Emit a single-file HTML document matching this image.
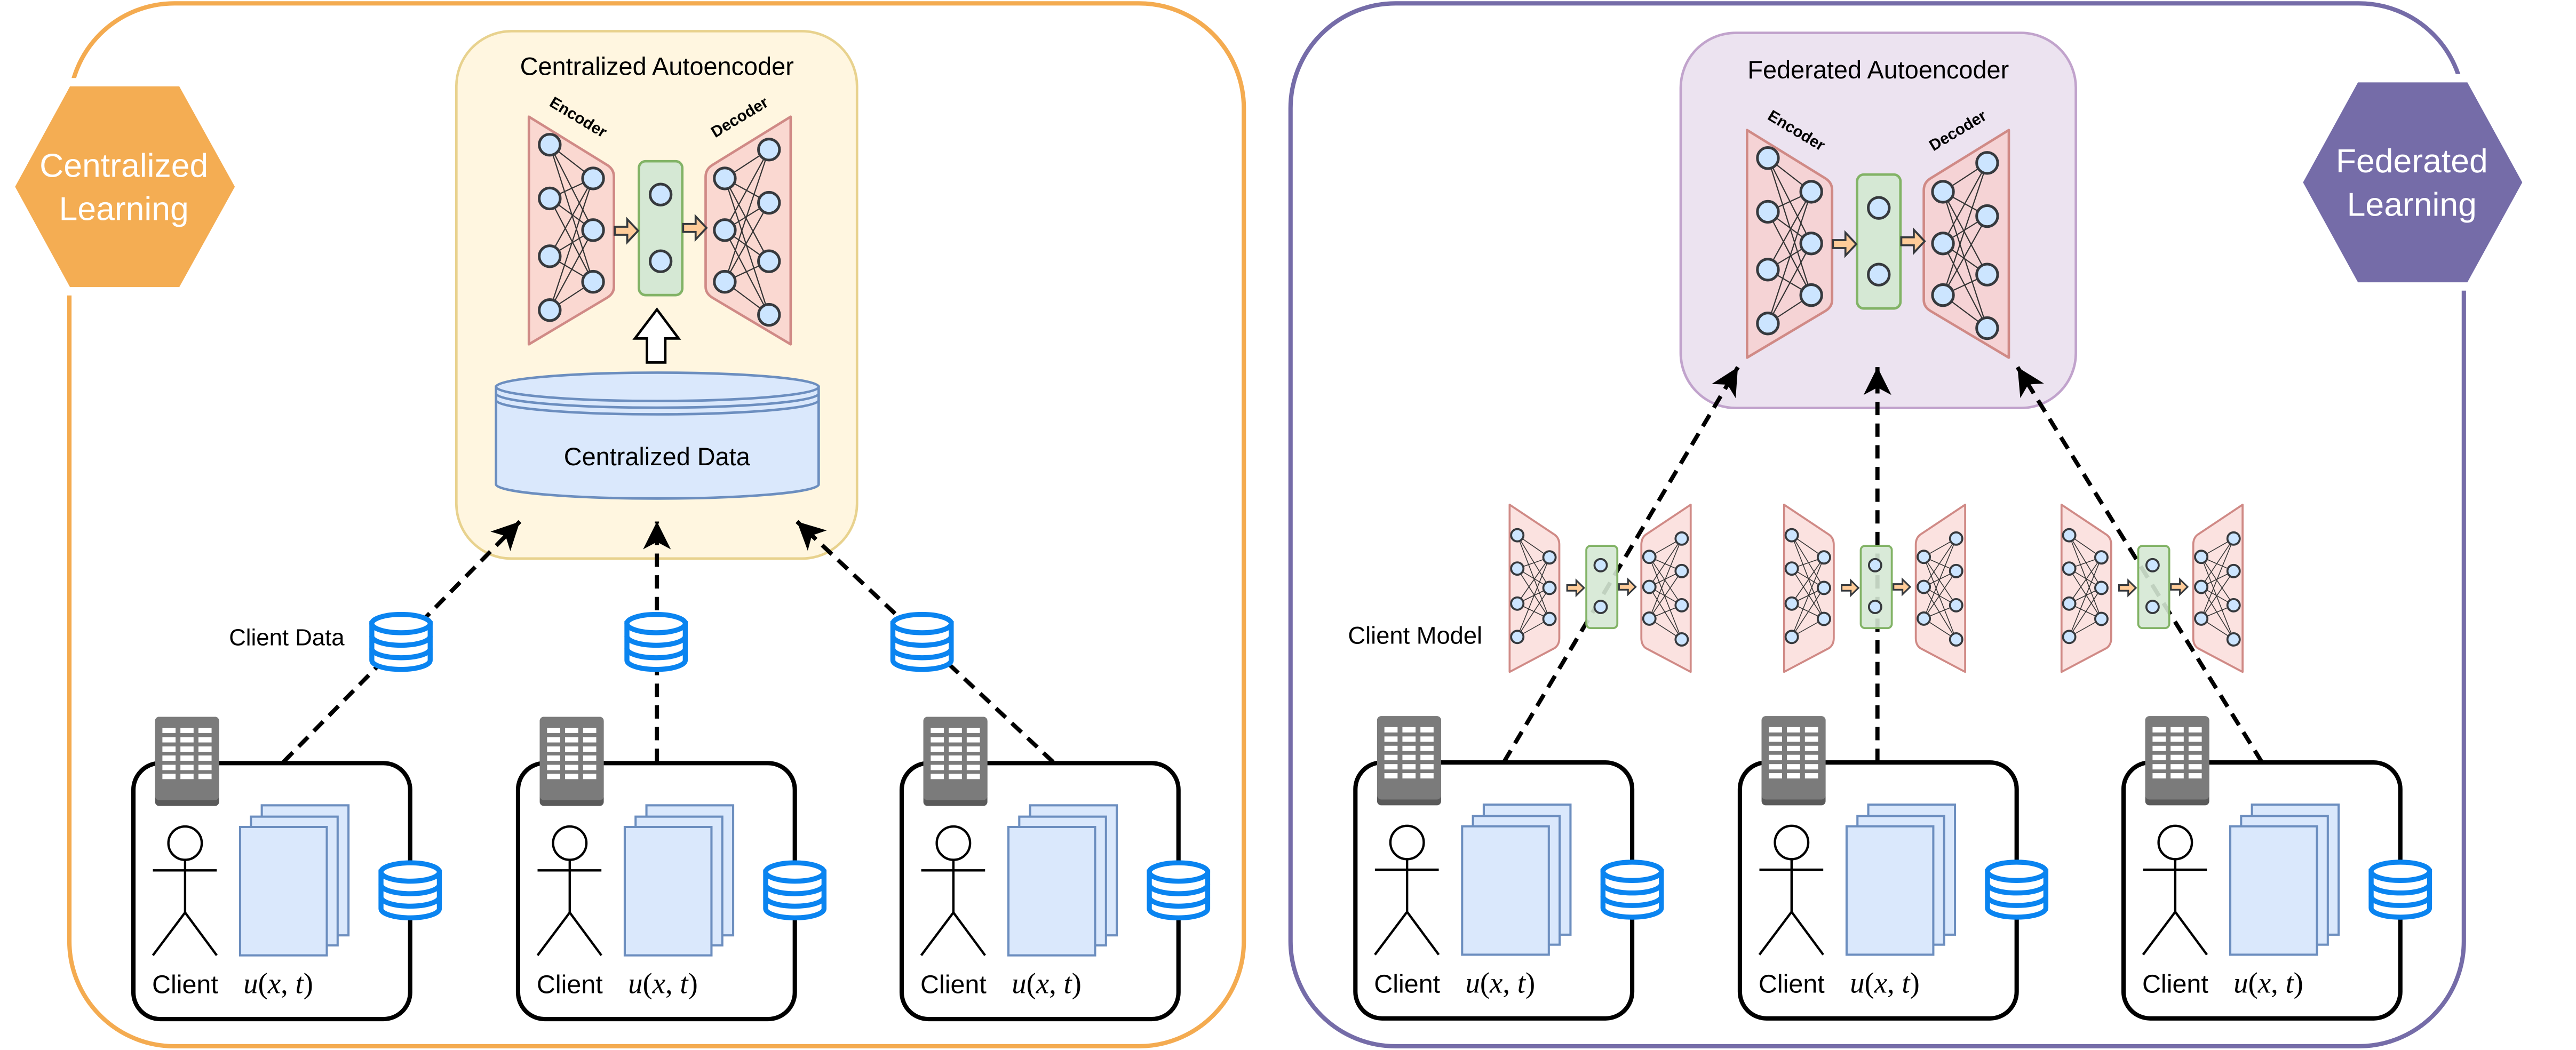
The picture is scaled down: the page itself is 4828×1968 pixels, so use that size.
<!DOCTYPE html>
<html><head><meta charset="utf-8"><style>
html,body{margin:0;padding:0;background:#fff;}
svg{display:block;}
text{font-family:"Liberation Sans",Arial,sans-serif;}
.sr{font-family:"Liberation Serif",serif;font-style:italic;}
</style></head><body>
<svg width="4828" height="1968" viewBox="0 0 1544.96 629.76" xmlns="http://www.w3.org/2000/svg">
<defs>
<marker id="ah" markerWidth="20" markerHeight="20" refX="0" refY="0" viewBox="-16 -9 18 18" markerUnits="userSpaceOnUse" orient="auto">
<path d="M0,0 L-15,-7.5 L-11,0 L-15,7.5 Z" fill="#000"/>
</marker>
<g id="db">
<path d="M1.5,7 V29 A17.5,5.5 0 0 0 36.5,29 V7 Z" fill="#fff" stroke="#0a84f0" stroke-width="3"/>
<ellipse cx="19" cy="7" rx="17.5" ry="5.5" fill="#fff" stroke="#0a84f0" stroke-width="3"/>
<path d="M1.5,14.5 A17.5,5.5 0 0 0 36.5,14.5 M1.5,22 A17.5,5.5 0 0 0 36.5,22" fill="none" stroke="#0a84f0" stroke-width="3"/>
</g>
<g id="srv">
<rect x="0" y="0" width="38.4" height="53.5" rx="2.5" fill="#5a5a5a"/>
<rect x="0" y="0" width="38.4" height="50" rx="2.5" fill="#7b7b7b"/>
<g fill="#fff">
<rect x="4.4" y="6.6" width="7.9" height="3.2"/><rect x="15.2" y="6.6" width="7.9" height="3.2"/><rect x="26" y="6.6" width="7.9" height="3.2"/>
<rect x="4.4" y="12.2" width="7.9" height="3.2"/><rect x="15.2" y="12.2" width="7.9" height="3.2"/><rect x="26" y="12.2" width="7.9" height="3.2"/>
<rect x="4.4" y="17.8" width="7.9" height="3.2"/><rect x="15.2" y="17.8" width="7.9" height="3.2"/><rect x="26" y="17.8" width="7.9" height="3.2"/>
<rect x="4.4" y="23.2" width="7.9" height="3.2"/><rect x="15.2" y="23.2" width="7.9" height="3.2"/><rect x="26" y="23.2" width="7.9" height="3.2"/>
<rect x="4.4" y="28.8" width="7.9" height="3.2"/><rect x="15.2" y="28.8" width="7.9" height="3.2"/><rect x="26" y="28.8" width="7.9" height="3.2"/>
<rect x="4.4" y="34.2" width="7.9" height="3.2"/><rect x="15.2" y="34.2" width="7.9" height="3.2"/><rect x="26" y="34.2" width="7.9" height="3.2"/>
</g>
</g>
<g id="client">
<rect x="0" y="0" width="166" height="153.5" rx="16" fill="#fff" stroke="#000" stroke-width="2.6"/>
<use href="#srv" x="13" y="-27.8"/>
<circle cx="31" cy="48" r="10" fill="#fff" stroke="#000" stroke-width="1.4"/>
<path d="M11.7,64.3 H50 M31,58 V89.6 L11.7,115.3 M31,89.6 L50,115.3" fill="none" stroke="#000" stroke-width="1.4"/>
<rect x="77" y="25.3" width="52" height="78" fill="#dae8fc" stroke="#6c8ebf" stroke-width="1.3"/>
<rect x="70.5" y="32.1" width="52" height="77.2" fill="#dae8fc" stroke="#6c8ebf" stroke-width="1.3"/>
<rect x="64" y="38.3" width="52" height="77" fill="#dae8fc" stroke="#6c8ebf" stroke-width="1.3"/>
<text x="31" y="138" font-size="15.5" text-anchor="middle">Client</text>
<text x="66" y="138" font-size="17.5" class="sr">u<tspan font-style="normal">(</tspan>x<tspan font-style="normal">, </tspan>t<tspan font-style="normal">)</tspan></text>
<use href="#db" x="147" y="58.3"/>
</g>
<g id="net">
<path d="M0,0 L47,29 Q51,31.5 51,36 L51,102 Q51,106 47,108.5 L0,136.5 Z" fill="#f8cecc" fill-opacity="0.75" stroke="#d08a86" stroke-width="1.5" stroke-linejoin="round"/>
<path d="M157,0 L110,29 Q106,31.5 106,36 L106,102 Q106,106 110,108.5 L157,136.5 Z" fill="#f8cecc" fill-opacity="0.75" stroke="#d08a86" stroke-width="1.5" stroke-linejoin="round"/>
<path d="M12.5,16.8L38.5,37M12.5,16.8L38.5,68M12.5,16.8L38.5,99M12.5,49L38.5,37M12.5,49L38.5,68M12.5,49L38.5,99M12.5,83.7L38.5,37M12.5,83.7L38.5,68M12.5,83.7L38.5,99M12.5,116L38.5,37M12.5,116L38.5,68M12.5,116L38.5,99
M117.5,37L144,19.7M117.5,37L144,51.6M117.5,37L144,86.7M117.5,37L144,118.8M117.5,68L144,19.7M117.5,68L144,51.6M117.5,68L144,86.7M117.5,68L144,118.8M117.5,99L144,19.7M117.5,99L144,51.6M117.5,99L144,86.7M117.5,99L144,118.8" stroke="#333" stroke-width="0.7" fill="none"/>
<g fill="#cce5ff" stroke="#36393d" stroke-width="1.6">
<circle cx="12.5" cy="16.8" r="6.3"/><circle cx="12.5" cy="49" r="6.3"/><circle cx="12.5" cy="83.7" r="6.3"/><circle cx="12.5" cy="116" r="6.3"/>
<circle cx="38.5" cy="37" r="6.3"/><circle cx="38.5" cy="68" r="6.3"/><circle cx="38.5" cy="99" r="6.3"/>
<circle cx="117.5" cy="37" r="6.3"/><circle cx="117.5" cy="68" r="6.3"/><circle cx="117.5" cy="99" r="6.3"/>
<circle cx="144" cy="19.7" r="6.3"/><circle cx="144" cy="51.6" r="6.3"/><circle cx="144" cy="86.7" r="6.3"/><circle cx="144" cy="118.8" r="6.3"/>
</g>
<rect x="66" y="26.7" width="26" height="80.3" rx="4" fill="#d5e8d4" stroke="#82b366" stroke-width="1.5"/>
<g fill="#cce5ff" stroke="#36393d" stroke-width="1.6"><circle cx="79" cy="46.7" r="6.3"/><circle cx="79" cy="86.7" r="6.3"/></g>
<path d="M51.5,66 H59 V61.5 L65.5,68.4 L59,75.3 V70.8 H51.5 Z" fill="#ffcc99" stroke="#36393d" stroke-width="1.2"/>
<path d="M92.5,64.3 H100 V59.8 L106.5,66.7 L100,73.6 V69.1 H92.5 Z" fill="#ffcc99" stroke="#36393d" stroke-width="1.2"/>
<text x="0" y="0" font-size="9.5" font-weight="bold" text-anchor="middle" transform="translate(28,3) rotate(31)">Encoder</text>
<text x="0" y="0" font-size="9.5" font-weight="bold" text-anchor="middle" transform="translate(128,3) rotate(-31)">Decoder</text>
</g>
<g id="mini">
<path d="M0,0 L27,18 Q29.8,20 29.8,24 L29.8,80 Q29.8,84 27,86 L0,100.3 Z" fill="#f8cecc" fill-opacity="0.6" stroke="#d08a86" stroke-width="1.2" stroke-linejoin="round"/>
<path d="M108.6,0 L81.6,18 Q79,20 79,24 L79,80 Q79,84 81.6,86 L108.6,100.3 Z" fill="#f8cecc" fill-opacity="0.6" stroke="#d08a86" stroke-width="1.2" stroke-linejoin="round"/>
<path d="M4.6,18.3L23.9,31.6M4.6,18.3L23.9,49.9M4.6,18.3L23.9,68.5M4.6,38.3L23.9,31.6M4.6,38.3L23.9,49.9M4.6,38.3L23.9,68.5M4.6,59.3L23.9,31.6M4.6,59.3L23.9,49.9M4.6,59.3L23.9,68.5M4.6,79.3L23.9,31.6M4.6,79.3L23.9,49.9M4.6,79.3L23.9,68.5
M83.8,31.3L103.2,20.3M83.8,31.3L103.2,39.8M83.8,31.3L103.2,60.3M83.8,31.3L103.2,80.8M83.8,49.3L103.2,20.3M83.8,49.3L103.2,39.8M83.8,49.3L103.2,60.3M83.8,49.3L103.2,80.8M83.8,68.3L103.2,20.3M83.8,68.3L103.2,39.8M83.8,68.3L103.2,60.3M83.8,68.3L103.2,80.8" stroke="#333" stroke-width="0.5" fill="none"/>
<g fill="#cce5ff" stroke="#36393d" stroke-width="1.2">
<circle cx="4.6" cy="18.3" r="3.7"/><circle cx="4.6" cy="38.3" r="3.7"/><circle cx="4.6" cy="59.3" r="3.7"/><circle cx="4.6" cy="79.3" r="3.7"/>
<circle cx="23.9" cy="31.6" r="3.7"/><circle cx="23.9" cy="49.9" r="3.7"/><circle cx="23.9" cy="68.5" r="3.7"/>
<circle cx="83.8" cy="31.3" r="3.7"/><circle cx="83.8" cy="49.3" r="3.7"/><circle cx="83.8" cy="68.3" r="3.7"/>
<circle cx="103.2" cy="20.3" r="3.7"/><circle cx="103.2" cy="39.8" r="3.7"/><circle cx="103.2" cy="60.3" r="3.7"/><circle cx="103.2" cy="80.8" r="3.7"/>
</g>
<rect x="46" y="24.7" width="18.6" height="49.3" rx="2.5" fill="#d5e8d4" fill-opacity="0.9" stroke="#82b366" stroke-width="1.2"/>
<g fill="#cce5ff" stroke="#36393d" stroke-width="1.2"><circle cx="54.6" cy="36.3" r="3.7"/><circle cx="54.6" cy="61.3" r="3.7"/></g>
<path d="M34.5,48.2 H40 V45.4 L44.6,49.9 L40,54.4 V51.6 H34.5 Z" fill="#ffcc99" stroke="#36393d" stroke-width="1"/>
<path d="M65.6,47.6 H71 V44.8 L75.6,49.3 L71,53.8 V51 H65.6 Z" fill="#ffcc99" stroke="#36393d" stroke-width="1"/>
</g>
</defs>

<rect x="41.6" y="2" width="704.4" height="625.5" rx="63" fill="none" stroke="#f4ab50" stroke-width="2.6"/>
<rect x="774" y="2" width="703.7" height="625.5" rx="63" fill="none" stroke="#756ca8" stroke-width="2.6"/>

<polygon points="6.2,112 40.5,49.3 109,49.3 143.7,112 109,174.7 40.5,174.7" fill="#f4ad53" stroke="#fff" stroke-width="5"/>
<text x="74.3" y="106" font-size="20" fill="#fff" text-anchor="middle">Centralized</text>
<text x="74.3" y="132" font-size="20" fill="#fff" text-anchor="middle">Learning</text>
<polygon points="1378.4,109.4 1412.7,46.9 1481.3,46.9 1515.6,109.4 1481.3,171.8 1412.7,171.8" fill="#756ca8" stroke="#fff" stroke-width="5"/>
<text x="1446.5" y="103.4" font-size="20" fill="#fff" text-anchor="middle">Federated</text>
<text x="1446.5" y="129.5" font-size="20" fill="#fff" text-anchor="middle">Learning</text>

<rect x="273.7" y="18.7" width="240.3" height="316.3" rx="33" fill="#fff6e0" stroke="#e8d28e" stroke-width="1.5"/>
<text x="394" y="45" font-size="15" text-anchor="middle">Centralized Autoencoder</text>
<use href="#net" x="317.2" y="70"/>
<path d="M394,185.6 L407,203 L399,203 L399,217.4 L388,217.4 L388,203 L380.8,203 Z" fill="#fff" stroke="#000" stroke-width="1.5"/>
<path d="M297.5,232 V290.5 A96.75,8.5 0 0 0 491,290.5 V232 Z" fill="#dae8fc" stroke="#6c8ebf" stroke-width="1.5"/>
<ellipse cx="394.25" cy="232" rx="96.75" ry="8.5" fill="#dae8fc" stroke="#6c8ebf" stroke-width="1.5"/>
<path d="M297.5,236 A96.75,8.5 0 0 0 491,236 M297.5,240 A96.75,8.5 0 0 0 491,240" fill="none" stroke="#6c8ebf" stroke-width="1.5"/>
<text x="394" y="279" font-size="15" text-anchor="middle">Centralized Data</text>

<rect x="1008" y="19.7" width="237" height="225" rx="33" fill="#ece3f0" stroke="#c1a3cc" stroke-width="1.5"/>
<text x="1126.5" y="47" font-size="15" text-anchor="middle">Federated Autoencoder</text>
<use href="#net" x="1047.8" y="78"/>

<g stroke="#000" stroke-width="2.5" stroke-dasharray="8 5" fill="none" marker-end="url(#ah)">
<line x1="170" y1="457" x2="311.8" y2="312.8"/>
<line x1="394" y1="457" x2="394" y2="312.8"/>
<line x1="631.6" y1="457" x2="478" y2="312.8"/>
<line x1="902" y1="457" x2="1042.3" y2="220.2"/>
<line x1="1126" y1="457" x2="1126" y2="220.2"/>
<line x1="1356.5" y1="457" x2="1210" y2="220.2"/>
</g>

<use href="#db" x="221.5" y="367"/>
<use href="#db" x="374.5" y="367"/>
<use href="#db" x="534" y="367"/>
<text x="206.6" y="387" font-size="14" text-anchor="end">Client Data</text>

<use href="#mini" x="905.4" y="302.7"/>
<use href="#mini" x="1070" y="302.7"/>
<use href="#mini" x="1236.4" y="302.7"/>
<text x="889" y="386" font-size="14.5" text-anchor="end">Client Model</text>

<use href="#client" x="80" y="457.7"/>
<use href="#client" x="310.7" y="457.7"/>
<use href="#client" x="540.8" y="457.7"/>
<use href="#client" x="812.9" y="457.3"/>
<use href="#client" x="1043.5" y="457.3"/>
<use href="#client" x="1273.6" y="457.3"/>
</svg>
</body></html>
